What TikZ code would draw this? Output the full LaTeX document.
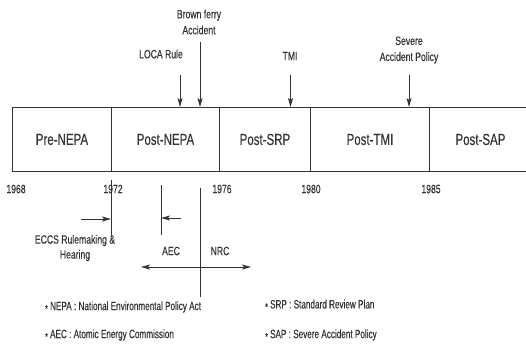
\documentclass[tikz,border=0pt]{standalone}
\usepackage{fontspec}
\setmainfont{Liberation Sans}[FakeStretch=0.72,FakeBold=0.3]
\newfontfamily\narrowf{Liberation Sans}[FakeStretch=0.68,FakeBold=0.3]
\usetikzlibrary{arrows.meta}
\definecolor{ink}{HTML}{333333}
\tikzset{
  period/.style={draw=ink, line width=0.9pt, minimum height=64pt, inner sep=0pt, anchor=north west, text=ink, font=\fontsize{16}{18}\selectfont},
  lab/.style={text=ink, inner sep=0pt, align=center, font=\fontsize{12}{16}\selectfont},
  note/.style={text=ink, inner sep=0pt, anchor=west, font=\narrowf\fontsize{12}{14}\selectfont},
  tick/.style={draw=ink, line width=0.8pt},
  arr/.style={draw=ink, line width=0.8pt, -{Stealth[length=9pt,width=5pt,inset=2pt]}},
  darr/.style={draw=ink, line width=0.8pt, {Stealth[length=9pt,width=5pt,inset=2pt]}-{Stealth[length=9pt,width=5pt,inset=2pt]}}
}
\newcommand{\bul}{\raisebox{-0.3ex}{\fontsize{10}{10}\selectfont *}}
\begin{document}
\begin{tikzpicture}[x=1pt,y=-1pt]
\useasboundingbox (0,0) rectangle (526,349);
% period boxes
\node[period, minimum width=99pt] (pre) at (12,107) {Pre-NEPA};
\node[period, minimum width=108pt] (pnepa) at (111,107) {Post-NEPA};
\node[period, minimum width=91pt] (psrp) at (219,107) {Post-SRP};
\node[period, minimum width=119pt] (ptmi) at (310,107) {Post-TMI};
\node[period, minimum width=102pt] (psap) at (429,107) {Post-SAP};
% events above
\node[lab] (loca) at (161,54) {LOCA Rule};
\coordinate (locaS) at (180,75);
\draw[arr] (locaS) -- (locaS |- pnepa.north);
\node[lab] (bf) at (199,22) {Brown ferry\\Accident};
\coordinate (bfS) at (200,42);
\draw[arr] (bfS) -- (bfS |- pnepa.north);
\node[lab] (tmi) at (290,56) {TMI};
\coordinate (tmiS) at (290.5,75);
\draw[arr] (tmiS) -- (tmiS |- ptmi.north);
\node[lab] (sap) at (409,50) {Severe\\Accident Policy};
\coordinate (sapS) at (409,75);
\draw[arr] (sapS) -- (sapS |- ptmi.north);
% years
\node[lab] (y68) at (16,189) {1968};
\node[lab] (y72) at (113,189) {1972};
\node[lab] (y76) at (222,189) {1976};
\node[lab] (y80) at (311,189) {1980};
\node[lab] (y85) at (431,189) {1985};
% lower marks
\coordinate (l72a) at (111,180);
\coordinate (l72b) at (111,237);
\draw[tick] (l72a) -- (l72b);
\coordinate (laeca) at (161,185);
\coordinate (laecb) at (161,235);
\draw[tick] (laeca) -- (laecb);
\coordinate (lnrca) at (200,188);
\coordinate (lnrcb) at (200,297);
\draw[tick] (lnrca) -- (lnrcb);
\coordinate (eccsS) at (81,219);
\draw[arr] (eccsS) -- (eccsS -| l72a);
\coordinate (aecS) at (181,218);
\draw[arr] (aecS) -- (aecS -| laeca);
\coordinate (dl) at (141,267);
\coordinate (dr) at (251,267);
\draw[darr] (dl) -- (dr);
\node[lab, font=\fontsize{12}{15}\selectfont] (eccs) at (75,248) {ECCS Rulemaking \&\\Hearing};
\node[lab] (aec) at (171,251) {AEC};
\node[lab] (nrc) at (220,251) {NRC};
% notes
\node[note] (n1) at (45,307) {\bul\ NEPA : National Environmental Policy Act};
\node[note] (n2) at (45,335) {\bul\ AEC : Atomic Energy Commission};
\node[note] (n3) at (265,305) {\bul\ SRP : Standard Review Plan};
\node[note] (n4) at (265,335) {\bul\ SAP : Severe Accident Policy};
\end{tikzpicture}
\end{document}
